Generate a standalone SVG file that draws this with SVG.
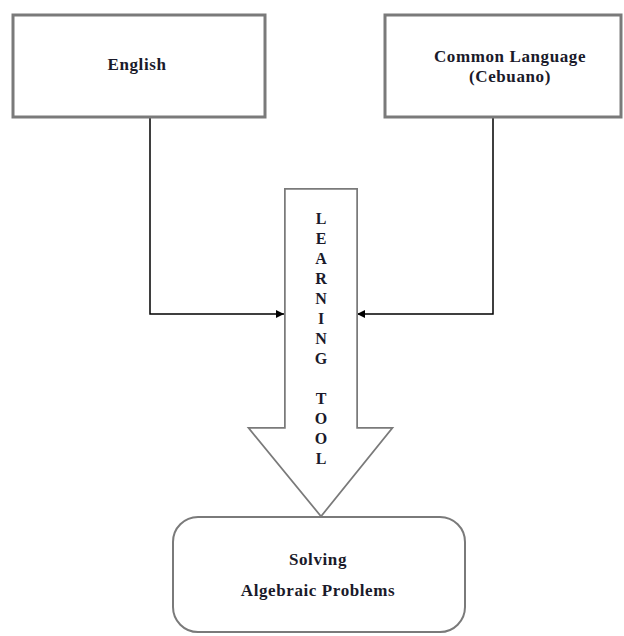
<svg xmlns="http://www.w3.org/2000/svg" width="624" height="636" viewBox="0 0 624 636">
<style>
.box{fill:#fff;stroke:#7a7a7a;stroke-width:3}
.t{font-family:"Liberation Serif","Times New Roman",serif;font-weight:bold;font-size:17px;letter-spacing:0.6px;fill:#1a1a2a;text-anchor:middle}
.v{font-family:"Liberation Serif","Times New Roman",serif;font-weight:bold;font-size:16px;fill:#1a1a2a;text-anchor:middle}
.c{fill:none;stroke:#000;stroke-width:1.5}
</style>
<defs>
<marker id="ah" viewBox="0 0 10 10" refX="10" refY="5" markerWidth="9" markerHeight="8" markerUnits="userSpaceOnUse" orient="auto">
<path d="M0,0 L10,5 L0,10 z" fill="#000"/>
</marker>
<path id="arrowShape" d="M287,191 L355,191 L355,430 L388,430 L321,513 L253,430 L287,430 Z"/>
</defs>
<rect width="624" height="636" fill="#fff"/>
<g id="connectors">
<polyline class="c" points="150,118 150,314 284,314" marker-end="url(#ah)"/>
<polyline class="c" points="493,118 493,314 357,314" marker-end="url(#ah)"/>
</g>
<g id="english">
<rect class="box" x="13" y="15" width="252" height="102"/>
<text class="t" x="137" y="70">English</text>
</g>
<g id="common">
<rect class="box" x="385" y="15" width="236" height="102"/>
<text class="t" x="510" y="62">Common Language</text>
<text class="t" x="510" y="82">(Cebuano)</text>
</g>
<g id="learning-tool">
<use href="#arrowShape" fill="#fff" stroke="#7a7a7a" stroke-width="6" stroke-linejoin="miter"/>
<use href="#arrowShape" fill="#fff" stroke="#fff" stroke-width="2.5" stroke-linejoin="miter"/>
<text class="v" x="321" y="224">L</text>
<text class="v" x="321" y="244">E</text>
<text class="v" x="321" y="264">A</text>
<text class="v" x="321" y="284">R</text>
<text class="v" x="321" y="304">N</text>
<text class="v" x="321" y="324">I</text>
<text class="v" x="321" y="344">N</text>
<text class="v" x="321" y="364">G</text>
<text class="v" x="321" y="404">T</text>
<text class="v" x="321" y="424">O</text>
<text class="v" x="321" y="444">O</text>
<text class="v" x="321" y="464">L</text>
</g>
<g id="solving">
<rect x="173" y="517" width="292" height="115" rx="25" ry="25" fill="#fff" stroke="#7a7a7a" stroke-width="2"/>
<text class="t" x="318" y="565">Solving</text>
<text class="t" x="318" y="596">Algebraic Problems</text>
</g>
</svg>
